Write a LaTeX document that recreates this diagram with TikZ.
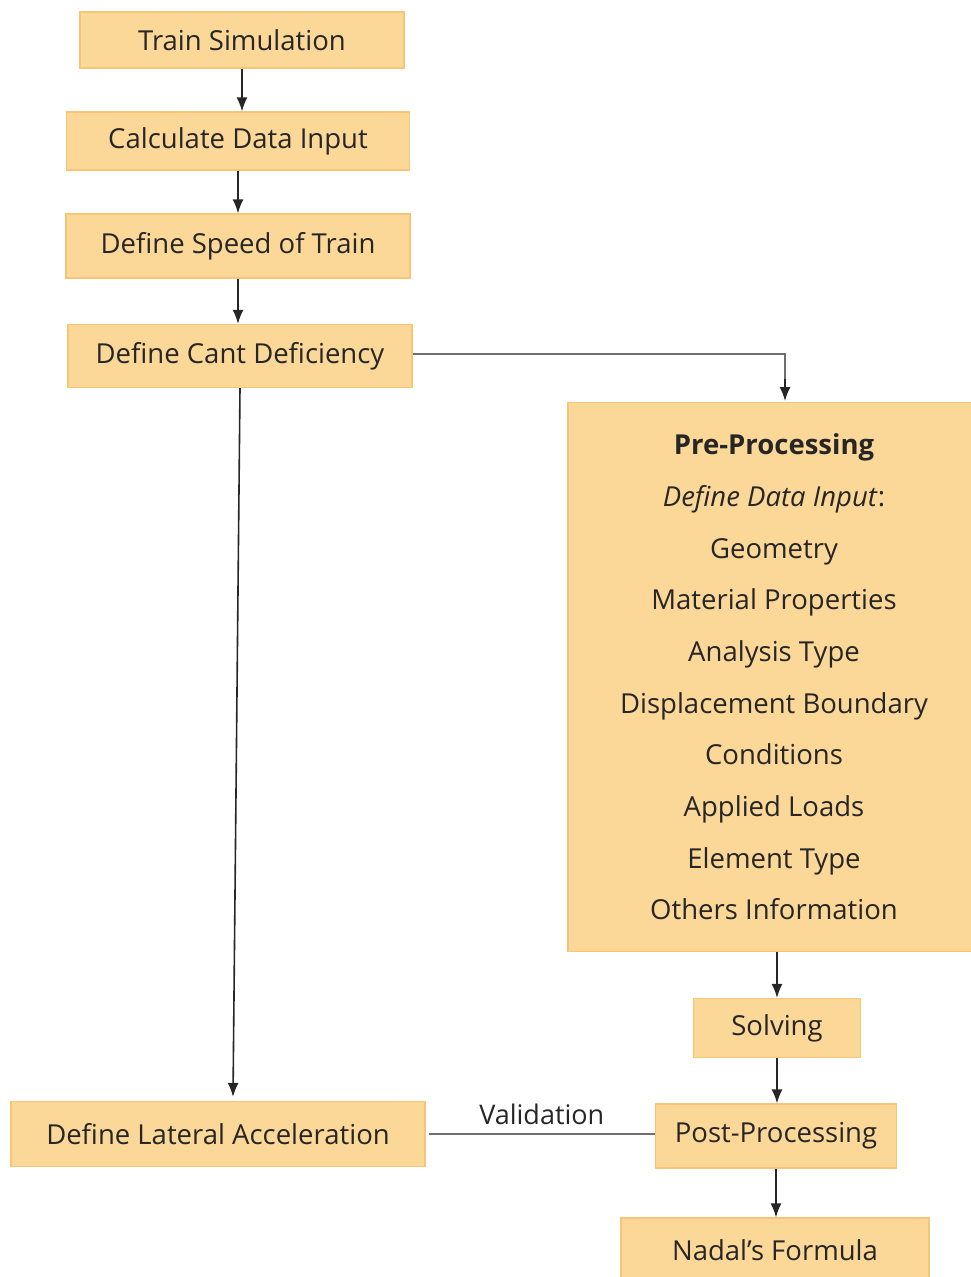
\documentclass[tikz,border=0pt]{standalone}
\usepackage{fontspec}
\setmainfont{Open Sans}
\usetikzlibrary{arrows.meta,calc}
\definecolor{boxfill}{RGB}{252,216,152}
\definecolor{boxline}{RGB}{246,198,116}
\definecolor{thinline}{RGB}{110,110,110}
\tikzstyle{block}=[draw=boxline,fill=boxfill,rectangle,inner sep=0pt,
                   line width=1.2pt,font=\fontsize{27.5}{32}\selectfont,text=black!85]
\tikzstyle{flow}=[-{Latex[length=14pt,width=11pt]},line width=1.6pt,black!85]
\tikzstyle{thin}=[line width=1.2pt,thinline]

\begin{document}
\begin{tikzpicture}[x=1pt,y=-1pt]
  \useasboundingbox (0,0) rectangle (971,1277);
  % left column
  \node[block,minimum width=324,minimum height=56] (train) at (242,40) {Train Simulation};
  \node[block,minimum width=343,minimum height=58] (calc) at (238,141) {Calculate Data Input};
  \node[block,minimum width=344,minimum height=64] (speed) at (238,246) {Define Speed of Train};
  \node[block,minimum width=344,minimum height=63] (cant) at (240,356) {Define Cant Deficiency};
  \node[block,minimum width=414,minimum height=65] (lateral) at (218,1134) {Define Lateral Acceleration};

  \draw[flow] (train.south) -- (train.south |- calc.north);
  \draw[flow] (calc.south) -- (calc.south |- speed.north);
  \draw[flow] (speed.south) -- (speed.south |- cant.north);
  \draw[flow] (cant.south) -- ($(lateral.north)+(15,-4)$);

  % right column
  \node[block,minimum width=412,minimum height=549,align=center,
        font=\fontsize{27.5}{51.7}\selectfont] (pre) at (774,677)
    {\textbf{Pre-Processing}\\ \textit{Define Data Input}:\\ Geometry\\
     Material Properties\\ Analysis Type\\ Displacement Boundary\\ Conditions\\
     Applied Loads\\ Element Type\\ Others Information};
  \node[block,minimum width=167,minimum height=59] (solve) at (777,1028) {Solving};
  \node[block,minimum width=241,minimum height=64] (post) at (776,1136) {Post-Processing};
  \node[block,minimum width=308,minimum height=64] (nadal) at (775,1250) {Nadal’s Formula};

  \coordinate (prein) at (785,401);
  \draw[thin] (cant.east |- 0,354) -| ($(prein)+(0,-20)$);
  \draw[flow] ($(prein)+(0,-22)$) -- (prein);

  \draw[flow] (pre.south -| solve.north) -- (solve.north);
  \draw[flow] (solve.south) -- (solve.south |- post.north);
  \draw[flow] (post.south) -- (post.south |- nadal.north);

  % validation link
  \draw[thin] ($(lateral.east)+(3,0)$) -- node[above=5pt,font=\fontsize{27}{30}\selectfont,text=black!85] (valid) {Validation} (lateral.east -| post.west);
\end{tikzpicture}
\end{document}
